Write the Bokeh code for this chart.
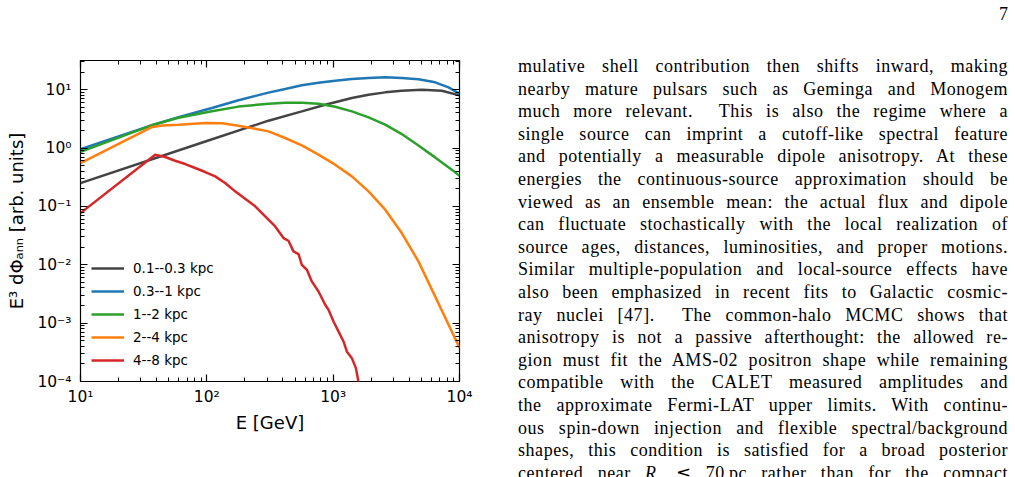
from bokeh.plotting import figure
from bokeh.models import (FixedTicker, CustomJSTickFormatter, LogAxis, Legend,
                          LegendItem, Div, Range1d)
from bokeh.layouts import row
from bokeh.embed import file_html
from bokeh.resources import INLINE

# E^3 dPhi_ann per distance shell, read on log10 axes:
# log10(E / GeV) and log10(E^3 dPhi_ann / arb. units)
labels = ["0.1--0.3 kpc", "0.3--1 kpc", "1--2 kpc", "2--4 kpc", "4--8 kpc"]
colors = ["#444444", "#1f77b4", "#2ca02c", "#ff7f0e", "#d62728"]

log_e_shell1 = [1.0, 2.0, 2.488, 2.752, 2.937, 3.148, 3.28, 3.412, 3.543, 3.702, 3.86, 4.0]
log_f_shell1 = [-0.60, 0.12, 0.469, 0.629, 0.743, 0.858, 0.914, 0.954, 0.983, 1.0, 0.983, 0.903]

log_e_shell2 = [1.0, 1.578, 1.776, 2.04, 2.251, 2.488, 2.62, 2.752, 2.884, 3.016, 3.148,
                3.28, 3.412, 3.543, 3.675, 3.807, 3.913, 4.0]
log_f_shell2 = [-0.02, 0.40, 0.53, 0.686, 0.82, 0.95, 1.012, 1.075, 1.12, 1.155, 1.183,
                1.20, 1.212, 1.20, 1.177, 1.126, 1.04, 0.93]

log_e_shell3 = [1.0, 1.578, 1.776, 2.04, 2.251, 2.488, 2.62, 2.752, 2.884, 3.016, 3.148,
                3.28, 3.412, 3.543, 3.675, 3.807, 3.939, 4.0]
log_f_shell3 = [-0.065, 0.40, 0.52, 0.63, 0.71, 0.76, 0.777, 0.777, 0.76, 0.708, 0.629,
                0.525, 0.40, 0.24, 0.045, -0.16, -0.37, -0.477]

log_e_shell4 = [1.0, 1.56, 1.65, 1.776, 1.987, 2.119, 2.251, 2.383, 2.488, 2.62, 2.752,
                2.884, 3.016, 3.148, 3.28, 3.412, 3.543, 3.675, 3.807, 3.939, 4.0]
log_f_shell4 = [-0.257, 0.355, 0.385, 0.40, 0.43, 0.423, 0.383, 0.332, 0.286, 0.172, 0.047,
                -0.113, -0.285, -0.485, -0.742, -1.056, -1.456, -1.942, -2.542, -3.142, -3.42]

log_e_shell5 = [1.0, 1.591, 1.670, 1.749, 1.829, 1.908, 1.987, 2.066, 2.145, 2.224, 2.303,
                2.383, 2.462, 2.541, 2.607, 2.646, 2.686, 2.726, 2.752, 2.792, 2.831, 2.884,
                2.937, 2.963, 3.003, 3.042, 3.082, 3.108, 3.148, 3.180, 3.200, 3.240]
log_f_shell5 = [-1.115, -0.114, -0.154, -0.217, -0.274, -0.342, -0.411, -0.485, -0.600, -0.742,
                -0.868, -0.999, -1.171, -1.343, -1.542, -1.588, -1.771, -1.817, -2.0, -2.085,
                -2.285, -2.457, -2.685, -2.771, -2.971, -3.142, -3.314, -3.485, -3.600, -3.771,
                -4.0, -4.457]

x_major = [10, 100, 1000, 10000]
y_major = [1e-4, 1e-3, 1e-2, 1e-1, 1, 10]

FONT = "DejaVu Sans"

p = figure(width=500, height=477, x_axis_type="log", y_axis_type="log",
           x_range=Range1d(10, 1e4), y_range=Range1d(1e-4, 10 ** 1.5),
           output_backend="svg", toolbar_location=None,
           min_border_left=80, min_border_right=41, min_border_top=60, min_border_bottom=96)
p.background_fill_color = "white"
p.border_fill_color = "white"
p.outline_line_color = "black"
p.outline_line_width = 1.2
p.xgrid.visible = False
p.ygrid.visible = False

x_minor = [m * 10 ** k for k in range(1, 4) for m in range(2, 10)]
y_minor = [m * 10.0 ** k for k in range(-4, 2) for m in range(2, 10) if m * 10.0 ** k <= 10 ** 1.5]

sup_formatter = CustomJSTickFormatter(code="""
const sup = {"-": "\u207b", "0": "\u2070", "1": "\u00b9", "2": "\u00b2", "3": "\u00b3",
             "4": "\u2074", "5": "\u2075", "6": "\u2076", "7": "\u2077", "8": "\u2078", "9": "\u2079"};
const e = Math.round(Math.log10(tick));
return "10" + String(e).split("").map(c => sup[c]).join("");
""")
blank_formatter = CustomJSTickFormatter(code="return '';")


def style_axis(ax, ticks, minor, show_labels):
    ax.ticker = FixedTicker(ticks=ticks, minor_ticks=minor)
    ax.formatter = sup_formatter if show_labels else blank_formatter
    ax.axis_line_color = None
    ax.major_tick_in = 7
    ax.major_tick_out = 0
    ax.minor_tick_in = 4
    ax.minor_tick_out = 0
    ax.major_tick_line_color = "black"
    ax.minor_tick_line_color = "black"
    ax.major_tick_line_width = 1.2
    ax.minor_tick_line_width = 1
    ax.major_label_text_font = FONT
    ax.major_label_text_font_size = "15.5px" if show_labels else "0px"
    ax.major_label_text_color = "black"
    ax.axis_label_text_font = FONT
    ax.axis_label_text_font_size = "18px"
    ax.axis_label_text_font_style = "normal"
    ax.axis_label_text_color = "black"


style_axis(p.xaxis[0], x_major, x_minor, True)
style_axis(p.yaxis[0], y_major, y_minor, True)
p.xaxis[0].axis_label = "E [GeV]"
p.xaxis[0].major_label_standoff = 6
p.xaxis[0].axis_label_standoff = 3
p.yaxis[0].axis_label = "E\u00b3 d\u03a6\u2090\u2099\u2099 [arb. units]"
p.yaxis[0].major_label_standoff = 9
p.yaxis[0].axis_label_standoff = 7

top_axis = LogAxis()
style_axis(top_axis, x_major, x_minor, False)
p.add_layout(top_axis, "above")
right_axis = LogAxis()
style_axis(right_axis, y_major, y_minor, False)
p.add_layout(right_axis, "right")

series = [(log_e_shell1, log_f_shell1), (log_e_shell2, log_f_shell2),
          (log_e_shell3, log_f_shell3), (log_e_shell4, log_f_shell4),
          (log_e_shell5, log_f_shell5)]

items = []
for (le, lf), lab, col in zip(series, labels, colors):
    r = p.line([10 ** v for v in le], [10 ** v for v in lf], line_color=col, line_width=2.5)
    items.append(LegendItem(label=lab, renderers=[r]))

legend = Legend(items=items, location="bottom_left")
legend.background_fill_alpha = 0
legend.border_line_alpha = 0
legend.label_text_font = FONT
legend.label_text_font_size = "13.5px"
legend.label_text_color = "black"
legend.glyph_width = 33
legend.glyph_height = 20
legend.label_height = 20
legend.spacing = 3
legend.padding = 6
legend.margin = 5
legend.label_standoff = 9
p.add_layout(legend)

# Running text of the page column beside the figure
text_lines = [
    "mulative shell contribution then shifts inward, making",
    "nearby mature pulsars such as Geminga and Monogem",
    "much more relevant.&nbsp; This is also the regime where a",
    "single source can imprint a cutoff-like spectral feature",
    "and potentially a measurable dipole anisotropy. At these",
    "energies the continuous-source approximation should be",
    "viewed as an ensemble mean: the actual flux and dipole",
    "can fluctuate stochastically with the local realization of",
    "source ages, distances, luminosities, and proper motions.",
    "Similar multiple-population and local-source effects have",
    "also been emphasized in recent fits to Galactic cosmic-",
    "ray nuclei [47].&nbsp; The common-halo MCMC shows that",
    "anisotropy is not a passive afterthought: the allowed re-",
    "gion must fit the AMS-02 positron shape while remaining",
    "compatible with the CALET measured amplitudes and",
    "the approximate Fermi-LAT upper limits. With continu-",
    "ous spin-down injection and flexible spectral/background",
    "shapes, this condition is satisfied for a broad posterior",
    "centered near <i>R</i><sub style='font-size:11px'>s</sub> &#8818; 70&#8201;pc rather than for the compact",
]
line_html = "".join(
    f"<div style='text-align:justify;text-align-last:justify;height:22.6px;'>{t}</div>"
    for t in text_lines)
page_html = (
    "<div style=\"position:relative;width:515px;height:477px;overflow:hidden;"
    "font-family:'Liberation Serif',serif;color:#000;background:white;\">"
    "<div style='position:absolute;right:12px;top:-2px;font-size:18px;line-height:22.6px;'>7</div>"
    "<div style='position:absolute;left:13px;top:50px;width:490px;font-size:18px;"
    f"letter-spacing:0.55px;line-height:22.6px;'>{line_html}</div></div>"
)
div = Div(text=page_html, width=515, height=477)

layout = row(p, div, spacing=0)
open("out.html", "w").write(file_html(layout, INLINE))
